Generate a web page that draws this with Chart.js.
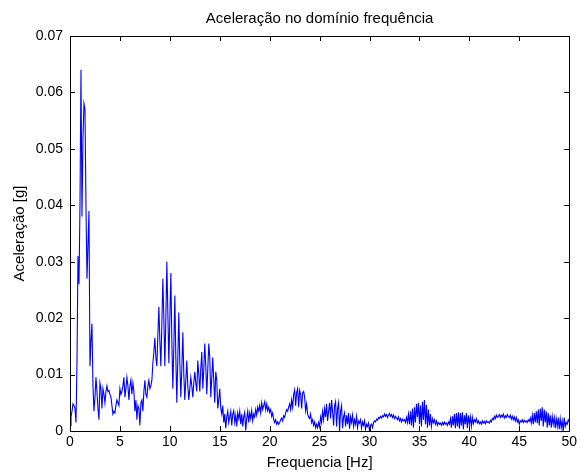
<!DOCTYPE html>
<html>
<head>
<meta charset="utf-8">
<script src="https://cdn.jsdelivr.net/npm/chart.js@4.4.1/dist/chart.umd.min.js"></script>
<style>
  html, body { margin: 0; padding: 0; background: #fff; }
  #wrap { width: 580px; height: 473px; position: relative; }
</style>
</head>
<body>
<div id="wrap"><canvas id="c" width="580" height="473"></canvas></div>
<script>
// Frequency resolution of the spectrum (Hz per bin)
const DF = 0.1;

// Acceleration amplitude [g], one value per 0.1 Hz bin, 0 .. 50 Hz
const accel = [
  0.0010, 0.0025, 0.0035, 0.0048, 0.0045, 0.0040, 0.0015, 0.0120, 0.0310, 0.0260,
  0.0400, 0.0640, 0.0380, 0.0520, 0.0580, 0.0570, 0.0400, 0.0270, 0.0330, 0.0390,
  0.0115, 0.0160, 0.0190, 0.0080, 0.0035, 0.0060, 0.0095, 0.0070, 0.0040, 0.0020,
  0.0085, 0.0075, 0.0040, 0.0075, 0.0065, 0.0050, 0.0070, 0.0080, 0.0070, 0.0072,
  0.0065, 0.0060, 0.0045, 0.0030, 0.0035, 0.0032, 0.0045, 0.0055, 0.0050, 0.0045,
  0.0075, 0.0065, 0.0070, 0.0080, 0.0095, 0.0060, 0.0075, 0.0095, 0.0080, 0.0055,
  0.0080, 0.0090, 0.0065, 0.0085, 0.0070, 0.0035, 0.0055, 0.0020, 0.0045, 0.0040,
  0.0010, 0.0050, 0.0055, 0.0035, 0.0070, 0.0090, 0.0065, 0.0060, 0.0080, 0.0090,
  0.0075, 0.0080, 0.0090, 0.0120, 0.0140, 0.0165, 0.0130, 0.0115, 0.0170, 0.0220,
  0.0160, 0.0115, 0.0190, 0.0270, 0.0200, 0.0115, 0.0200, 0.0300, 0.0210, 0.0120,
  0.0200, 0.0280, 0.0160, 0.0075, 0.0150, 0.0240, 0.0130, 0.0050, 0.0130, 0.0210,
  0.0120, 0.0060, 0.0110, 0.0175, 0.0100, 0.0055, 0.0090, 0.0125, 0.0080, 0.0055,
  0.0075, 0.0095, 0.0080, 0.0060, 0.0085, 0.0105, 0.0085, 0.0070, 0.0125, 0.0100,
  0.0070, 0.0110, 0.0140, 0.0075, 0.0110, 0.0155, 0.0115, 0.0065, 0.0110, 0.0155,
  0.0130, 0.0060, 0.0095, 0.0130, 0.0090, 0.0050, 0.0105, 0.0090, 0.0040, 0.0055,
  0.0075, 0.0040, 0.0030, 0.0045, 0.0015, 0.0030, 0.0005, 0.0025, 0.0035, 0.0015,
  0.0025, 0.0035, 0.0010, 0.0030, 0.0036, 0.0015, 0.0028, 0.0008, 0.0032, 0.0022,
  0.0035, 0.0012, 0.0030, 0.0008, 0.0025, 0.0033, 0.0001, 0.0022, 0.0035, 0.0015,
  0.0032, 0.0022, 0.0036, 0.0018, 0.0030, 0.0025, 0.0038, 0.0028, 0.0042, 0.0035,
  0.0045, 0.0032, 0.0050, 0.0038, 0.0045, 0.0052, 0.0038, 0.0048, 0.0036, 0.0042,
  0.0033, 0.0038, 0.0026, 0.0032, 0.0020, 0.0015, 0.0020, 0.0012, 0.0016, 0.0012,
  0.0015, 0.0020, 0.0023, 0.0018, 0.0027, 0.0024, 0.0032, 0.0038, 0.0035, 0.0042,
  0.0048, 0.0038, 0.0055, 0.0042, 0.0065, 0.0073, 0.0045, 0.0068, 0.0075, 0.0042,
  0.0072, 0.0065, 0.0040, 0.0068, 0.0070, 0.0060, 0.0036, 0.0048, 0.0030, 0.0025,
  0.0022, 0.0030, 0.0015, 0.0020, 0.0010, 0.0016, 0.0006, 0.0012, 0.0006, 0.0015,
  0.0008, 0.0025, 0.0015, 0.0035, 0.0020, 0.0040, 0.0025, 0.0048, 0.0018, 0.0035,
  0.0050, 0.0022, 0.0055, 0.0035, 0.0010, 0.0045, 0.0052, 0.0008, 0.0040, 0.0050,
  0.0000, 0.0035, 0.0045, 0.0005, 0.0025, 0.0032, 0.0008, 0.0028, 0.0012, 0.0032,
  0.0004, 0.0025, 0.0015, 0.0028, 0.0008, 0.0020, 0.0012, 0.0026, 0.0006, 0.0018,
  0.0014, 0.0020, 0.0005, 0.0016, 0.0010, 0.0018, 0.0003, 0.0012, 0.0008, 0.0014,
  0.0000, 0.0010, 0.0012, 0.0006, 0.0015, 0.0018, 0.0016, 0.0021, 0.0019, 0.0024,
  0.0022, 0.0026, 0.0023, 0.0027, 0.0025, 0.0030, 0.0026, 0.0029, 0.0024, 0.0028,
  0.0031, 0.0026, 0.0029, 0.0024, 0.0028, 0.0022, 0.0026, 0.0023, 0.0020, 0.0025,
  0.0018, 0.0022, 0.0016, 0.0021, 0.0018, 0.0020, 0.0015, 0.0024, 0.0015, 0.0030,
  0.0012, 0.0035, 0.0010, 0.0040, 0.0006, 0.0042, 0.0015, 0.0048, 0.0025, 0.0050,
  0.0012, 0.0045, 0.0008, 0.0052, 0.0020, 0.0055, 0.0012, 0.0046, 0.0006, 0.0038,
  0.0010, 0.0030, 0.0008, 0.0022, 0.0015, 0.0020, 0.0012, 0.0018, 0.0010, 0.0015,
  0.0012, 0.0014, 0.0010, 0.0015, 0.0011, 0.0016, 0.0012, 0.0014, 0.0010, 0.0016,
  0.0012, 0.0022, 0.0006, 0.0026, 0.0010, 0.0030, 0.0005, 0.0032, 0.0008, 0.0033,
  0.0004, 0.0032, 0.0010, 0.0033, 0.0003, 0.0028, 0.0012, 0.0032, 0.0005, 0.0028,
  0.0012, 0.0025, 0.0008, 0.0024, 0.0013, 0.0020, 0.0016, 0.0022, 0.0014, 0.0018,
  0.0013, 0.0016, 0.0012, 0.0018, 0.0014, 0.0017, 0.0013, 0.0018, 0.0015, 0.0016,
  0.0014, 0.0019, 0.0016, 0.0022, 0.0020, 0.0026, 0.0022, 0.0028, 0.0024, 0.0026,
  0.0029, 0.0024, 0.0028, 0.0025, 0.0030, 0.0023, 0.0027, 0.0024, 0.0029, 0.0026,
  0.0024, 0.0028, 0.0021, 0.0026, 0.0020, 0.0025, 0.0018, 0.0024, 0.0016, 0.0020,
  0.0012, 0.0018, 0.0016, 0.0020, 0.0015, 0.0019, 0.0016, 0.0018, 0.0015, 0.0020,
  0.0017, 0.0023, 0.0014, 0.0028, 0.0012, 0.0032, 0.0015, 0.0035, 0.0014, 0.0038,
  0.0010, 0.0040, 0.0018, 0.0042, 0.0008, 0.0038, 0.0015, 0.0035, 0.0006, 0.0032,
  0.0010, 0.0028, 0.0006, 0.0026, 0.0012, 0.0024, 0.0005, 0.0022, 0.0008, 0.0024,
  0.0003, 0.0022, 0.0006, 0.0018, 0.0000, 0.0024, 0.0008, 0.0015, 0.0012, 0.0020,
  0.0016
];

// Axis ticks
const xTicks = [0, 5, 10, 15, 20, 25, 30, 35, 40, 45, 50];
const yTicks = [0, 0.01, 0.02, 0.03, 0.04, 0.05, 0.06, 0.07];

const titleText = 'Aceleração no domínio frequência';
const xTitle = 'Frequencia [Hz]';
const yTitle = 'Aceleração [g]';

const points = accel.map((v, i) => ({ x: Math.round(i * DF * 10) / 10, y: v }));

const FONT = 'Liberation Sans, Arial, Helvetica, sans-serif';

// Title centred over the plot box, MATLAB style
const plotTitle = {
  id: 'plotTitle',
  afterDraw(chart) {
    const { ctx, chartArea: a } = chart;
    ctx.save();
    ctx.fillStyle = '#000';
    ctx.font = '15px ' + FONT;
    ctx.textAlign = 'center';
    ctx.textBaseline = 'middle';
    ctx.fillText(titleText, (a.left + a.right) / 2, 19);
    ctx.restore();
  }
};

// Box around the plot with inward ticks on all four sides
const boxTicks = {
  id: 'boxTicks',
  afterDraw(chart) {
    const { ctx, chartArea: a, scales } = chart;
    const xs = scales.x, ys = scales.y;
    const L = 5;
    ctx.save();
    ctx.strokeStyle = '#000';
    ctx.lineWidth = 1;
    ctx.beginPath();
    xTicks.forEach(t => {
      const px = Math.round(xs.getPixelForValue(t)) + 0.5;
      ctx.moveTo(px, a.bottom); ctx.lineTo(px, a.bottom - L);
      ctx.moveTo(px, a.top); ctx.lineTo(px, a.top + L);
    });
    yTicks.forEach(t => {
      const py = Math.round(ys.getPixelForValue(t)) + 0.5;
      ctx.moveTo(a.left, py); ctx.lineTo(a.left + L, py);
      ctx.moveTo(a.right, py); ctx.lineTo(a.right - L, py);
    });
    ctx.stroke();
    ctx.strokeRect(Math.round(a.left) + 0.5, Math.round(a.top) + 0.5,
                   Math.round(a.right - a.left), Math.round(a.bottom - a.top));
    ctx.restore();
  }
};

new Chart(document.getElementById('c'), {
  type: 'line',
  data: {
    datasets: [{
      data: points,
      borderColor: '#0000ff',
      borderWidth: 1.1,
      pointRadius: 0,
      tension: 0,
      fill: false
    }]
  },
  options: {
    responsive: false,
    animation: false,
    layout: { padding: { left: 0, right: 9.5, top: 36, bottom: 0 } },
    plugins: {
      legend: { display: false },
      tooltip: { enabled: false },
      title: { display: false }
    },
    scales: {
      x: {
        type: 'linear',
        min: 0, max: 50,
        grid: { display: false, drawTicks: false },
        border: { display: false },
        afterBuildTicks(s) { s.ticks = xTicks.map(v => ({ value: v })); },
        afterFit(s) { s.height = 42; },
        ticks: {
          color: '#000',
          font: { family: FONT, size: 14 },
          padding: 3,
          maxRotation: 0,
          callback: v => String(v)
        },
        title: {
          display: true,
          text: xTitle,
          color: '#000',
          font: { family: FONT, size: 15 },
          padding: { top: 0, bottom: 1 }
        }
      },
      y: {
        type: 'linear',
        min: 0, max: 0.07,
        grid: { display: false, drawTicks: false },
        border: { display: false },
        afterBuildTicks(s) { s.ticks = yTicks.map(v => ({ value: v })); },
        afterFit(s) { s.width = 70; },
        ticks: {
          color: '#000',
          font: { family: FONT, size: 14 },
          padding: 7,
          callback: v => (v === 0 ? '0' : v.toFixed(2))
        },
        title: {
          display: true,
          text: yTitle,
          color: '#000',
          font: { family: FONT, size: 15 },
          padding: { top: 11, bottom: 0 }
        }
      }
    }
  },
  plugins: [plotTitle, boxTicks]
});
</script>
</body>
</html>
